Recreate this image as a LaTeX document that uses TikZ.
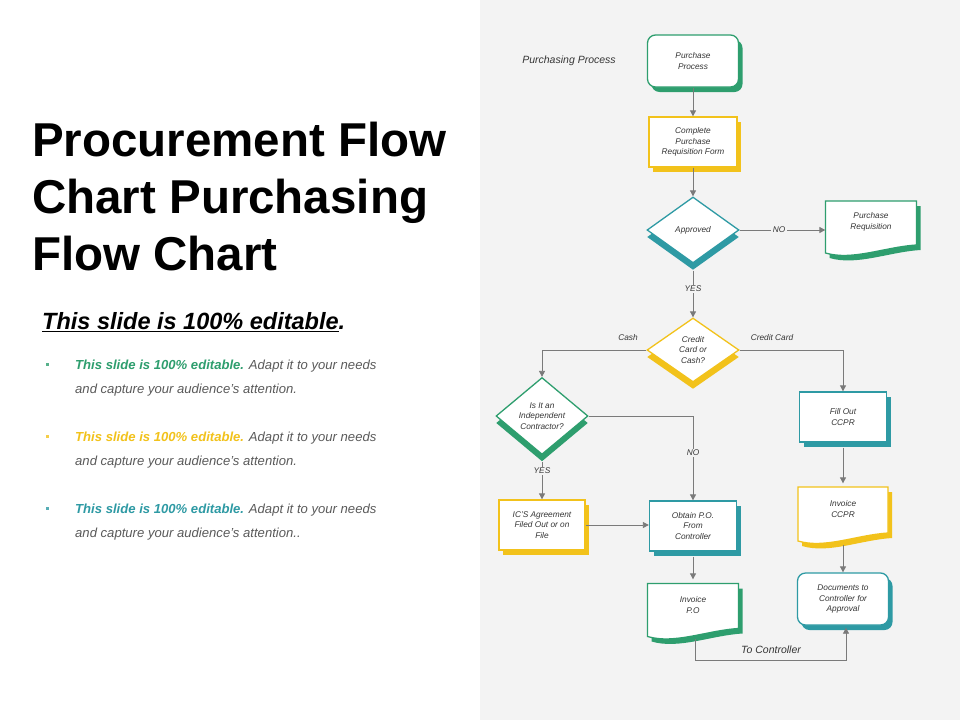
\documentclass[tikz,border=0pt]{standalone}
\usepackage{fontspec}
\setmainfont{Liberation Sans}
\usetikzlibrary{shapes.geometric,shadows,arrows.meta}
\definecolor{cg}{HTML}{2E9E6E}
\definecolor{cy}{HTML}{F2C21B}
\definecolor{ct}{HTML}{2E9AA4}
\definecolor{txt}{HTML}{353535}
\definecolor{btxt}{HTML}{5A5A5A}
\definecolor{ln}{HTML}{7A7A7A}
\definecolor{panel}{HTML}{F3F3F3}
\tikzset{
 base/.style={fill=white, line width=1.3pt, align=center, text=txt, font=\fontsize{8.3}{10.5}\selectfont\itshape, inner sep=1pt},
 box/.style={base, draw=#1, rectangle, minimum width=88, minimum height=50, general shadow={fill=#1, shadow xshift=4pt, shadow yshift=-5pt}},
 rbox/.style={box=#1, rounded corners=8pt},
 dia/.style={base, draw=#1, diamond, minimum width=92, minimum height=66, general shadow={fill=#1, shadow xshift=0pt, shadow yshift=-7pt}},
 docn/.style={base, rectangle, minimum width=90, minimum height=50, fill=none},
 conn/.style={draw=ln, line width=0.8pt, -{Triangle[width=6pt,length=6pt]}},
 plain/.style={draw=ln, line width=0.8pt},
 lab/.style={text=txt, font=\fontsize{8.3}{10}\selectfont\itshape, inner sep=1.5pt},
 labf/.style={lab, fill=panel},
}
\newcommand{\docpath}[5]{% x y w h color
 \fill[#5] (#1-#3/2+4,#2-#4/2+5) -- (#1+#3/2+4,#2-#4/2+5) -- (#1+#3/2+4,#2+#4/2-6+5)
   .. controls (#1+#3*0.15+4,#2+#4/2-4+5) and (#1-#3*0.2+4,#2+#4/2+10+5) .. (#1-#3/2+4,#2+#4/2+2+5) -- cycle;
 \filldraw[fill=white,draw=#5,line width=1.3pt] (#1-#3/2,#2-#4/2) -- (#1+#3/2,#2-#4/2) -- (#1+#3/2,#2+#4/2-6)
   .. controls (#1+#3*0.15,#2+#4/2-4) and (#1-#3*0.2,#2+#4/2+10) .. (#1-#3/2,#2+#4/2+2) -- cycle;}
\begin{document}
\begin{tikzpicture}[x=1pt,y=-1pt]
\useasboundingbox (0,0) rectangle (960,720);
\fill[white] (0,0) rectangle (960,720);
\fill[panel] (480,0) rectangle (960,720);
% left text
\node[anchor=west, align=left, font=\fontsize{47.5}{57}\selectfont\bfseries, inner sep=0] (title) at (32,197) {Procurement Flow\\Chart Purchasing\\Flow Chart};
\node[anchor=west, inner sep=0, font=\fontsize{23.5}{27}\selectfont\bfseries\itshape] (sub) at (42,322) {\underline{This slide is 100\% editable}.};
\foreach \c/\y/\e [count=\i] in {cg/365/., cy/437/., ct/509/..}{
 \fill[\c!80!white] (46,\y-2) rectangle (49,\y+1);
 \node[anchor=north west, align=left, inner sep=0, text=btxt, font=\fontsize{13.1}{24}\selectfont\itshape] (b\i) at (75,\y-5) {\textcolor{\c}{\bfseries This slide is 100\% editable.} Adapt it to your needs\\and capture your audience's attention\e};
}
% diagram
\node[lab, font=\fontsize{10.5}{12}\selectfont\itshape] (pp) at (569,61) {Purchasing Process};
\node[rbox=cg, minimum width=91, minimum height=52] (n1) at (693,61) {Purchase\\Process};
\node[box=cy] (n2) at (693,142) {Complete\\Purchase\\Requisition Form};
\node[dia=ct] (n3) at (693,230) {Approved};
\docpath{871}{226}{91}{50}{cg}
\node[docn] (n4) at (871,222) {Purchase\\Requisition};
\node[dia=cy, minimum height=64] (n5) at (693,350) {Credit\\Card or\\Cash?};
\node[dia=cg] (n6) at (542,416) {Is It an\\Independent\\Contractor?};
\node[box=ct, minimum width=87] (n7) at (843,417) {Fill Out\\CCPR};
\node[box=cy, minimum width=86] (n8) at (542,525) {IC'S Agreement\\Filed Out or on\\File};
\node[box=ct, minimum width=87] (n9) at (693,526) {Obtain P.O.\\From\\Controller};
\docpath{843}{513}{90}{52}{cy}
\node[docn] (n10) at (843,509) {Invoice\\CCPR};
\docpath{693}{609}{91}{51}{cg}
\node[docn] (n11) at (693,605) {Invoice\\P.O};
\node[rbox=ct, minimum width=91, minimum height=52] (n12) at (843,599) {Documents to\\Controller for\\Approval};
% connectors
\draw[conn] (n1.south) -- (n2.north);
\draw[conn] (n2.south) -- (n3.north);
\draw[conn] (n3.east) -- (n4.west|-n3.east);
\node[labf] (no1) at (779,230) {NO};
\draw[conn] ([yshift=-7pt]n3.south) -- (n5.north);
\node[labf] (yes1) at (693,289) {YES};
\draw[conn] (n5.west) -| (n6.north);
\node[lab] (cash) at (628,338) {Cash};
\draw[conn] (n5.east) -| (n7.north);
\node[lab] (cc) at (772,338) {Credit Card};
\draw[conn] (n6.east) -| (n9.north);
\node[labf] (no2) at (693,453) {NO};
\draw[conn] ([yshift=-7pt]n6.south) -- (n8.north);
\node[labf] (yes2) at (542,471) {YES};
\draw[conn] (n8.east) -- (n9.west|-n8.east);
\draw[conn] ([yshift=-5pt]n9.south) -- (n11.north);
\draw[conn] ([yshift=-5pt]n7.south) -- (n10.north);
\draw[conn] ([yshift=-10pt]n10.south) -- (n12.north);
\coordinate (c1) at (695,660);
\draw[conn] ([xshift=2pt,yshift=-8pt]n11.south) -- (c1) -| ([xshift=3pt,yshift=-2pt]n12.south);
\node[lab, font=\fontsize{10.5}{12}\selectfont\itshape] (tc) at (771,650) {To Controller};
\end{tikzpicture}
\end{document}
